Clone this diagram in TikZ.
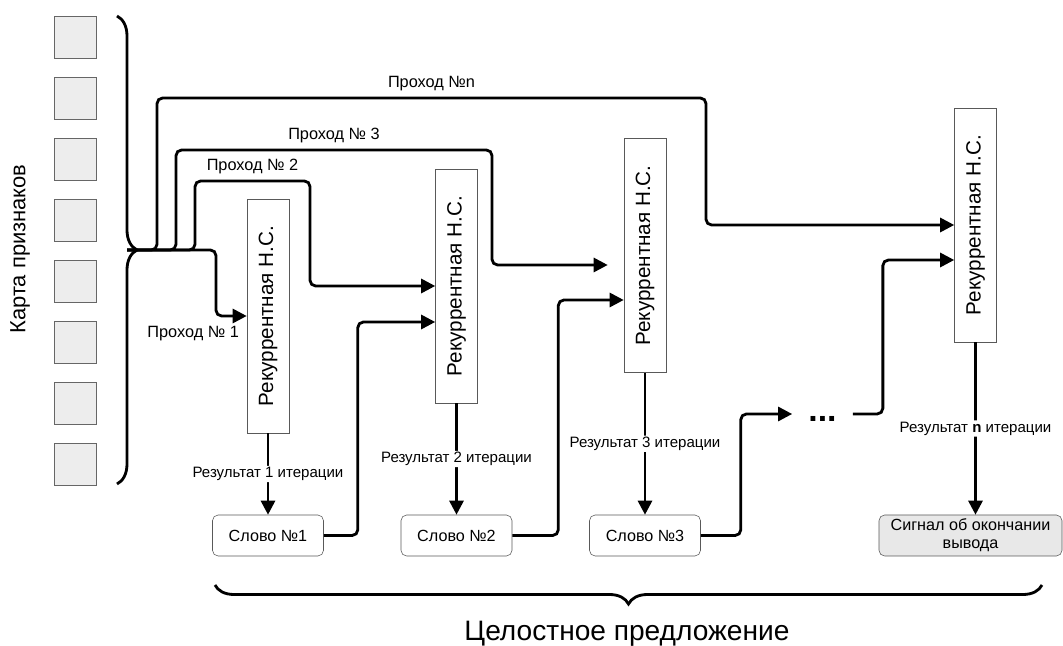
\documentclass[tikz,border=0pt]{standalone}
\usepackage{fontspec}
\setmainfont{Liberation Sans}
\usetikzlibrary{positioning, arrows.meta, decorations.pathreplacing}
\tikzset{
  cell/.style={
    draw=black!60,
    fill=black!7,
    minimum size=1.05cm,
    inner sep=0pt
  },
  rnnbox/.style={
    draw=black!65,
    fill=white,
    minimum width=1.05cm,
    minimum height=5.85cm,
    inner sep=0pt,
    font=\fontsize{14.7}{17}\selectfont
  },
  wordbox/.style={
    draw=black!65,
    fill=white,
    rounded corners=4pt,
    minimum width=2.775cm,
    minimum height=1.025cm,
    inner sep=0pt,
    align=center,
    font=\fontsize{11.5}{13}\selectfont
  },
  endbox/.style={
    wordbox,
    fill=black!9,
    minimum width=4.575cm
  },
  link/.style={
    line width=2pt,
    rounded corners=4pt,
    -{Triangle[length=10pt, width=10pt]}
  },
  passlbl/.style={
    font=\fontsize{11.6}{13}\selectfont,
    inner sep=2pt
  },
  reslbl/.style={
    font=\fontsize{10.7}{12}\selectfont,
    fill=white,
    inner sep=1pt
  },
  bracket/.style={
    decorate,
    decoration={brace, amplitude=#1},
    line width=2pt
  }
}

\begin{document}
\begin{tikzpicture}
        \useasboundingbox (0,0) rectangle (26.575,-16.15);

        % feature map
        \foreach \i in {0,...,7}
          \node[cell] (cell\i) at (1.875,-0.925-1.525*\i) {};
        \node[rotate=90, font=\fontsize{15.6}{18}\selectfont] (maplbl) at (0.5,-6.225) {Карта признаков};
        \draw[bracket=0.5cm] (2.925,-0.4) -- (2.925,-12.1);
        \coordinate (split) at (3.175,-6.25);

        % recurrent nets
        \node[rnnbox] (rnn1) at (6.7,-7.9) {\rotatebox{90}{Рекуррентная Н.С.}};
        \node[rnnbox] (rnn2) at (11.4125,-7.15) {\rotatebox{90}{Рекуррентная Н.С.}};
        \node[rnnbox] (rnn3) at (16.125,-6.3875) {\rotatebox{90}{Рекуррентная Н.С.}};
        \node[rnnbox] (rnn4) at (24.3875,-5.625) {\rotatebox{90}{Рекуррентная Н.С.}};

        % output words
        \node[wordbox] (word1) at (6.7,-13.3875) {Слово №1};
        \node[wordbox] (word2) at (11.4125,-13.3875) {Слово №2};
        \node[wordbox] (word3) at (16.125,-13.3875) {Слово №3};
        \node[endbox] (stop) at (24.2625,-13.3875) {Сигнал об окончании\\вывода};
        \node[font=\bfseries\fontsize{24}{28}\selectfont, inner xsep=0.4cm, inner ysep=0pt] (dots) at (20.5625,-10.35) {\raisebox{-5pt}[0pt][0pt]{...}};

        % passes over the feature map
        \draw[link] (split) -- ++(2.225,0) |- (rnn1.west);
        \node[passlbl, anchor=east] (pass1) at (6.05,-8.35) {Проход № 1};
        \draw[link] (split) -- ++(1.7,0) -- ++(0,1.725)
          -- node[passlbl, above=2pt] (pass2) {Проход № 2} ++(2.875,0) |- (rnn2.west);
        \draw[link] (split) -- ++(1.225,0) -- ++(0,2.5)
          -- node[passlbl, above=2pt] (pass3) {Проход № 3} ++(7.9,0) |- ([shift={(-0.4,-0.2375)}]rnn3.west);
        \draw[link] (split) -- ++(0.75,0) -- ++(0,3.8)
          -- node[passlbl, above=2pt] (passn) {Проход №n} ++(13.725,0) |- (rnn4.west);

        % iteration results
        \draw[link] (rnn1) -- node[reslbl] (res1) {Результат 1 итерации} (word1);
        \draw[link] (rnn2) -- node[reslbl] (res2) {Результат 2 итерации} (word2);
        \draw[link] (rnn3) -- node[reslbl] (res3) {Результат 3 итерации} (word3);
        \draw[link] (rnn4.south) -- node[reslbl] (resn) {Результат \textbf{n} итерации} (rnn4.south |- stop.north);

        % word fed back into the next pass
        \draw[link] (word1.east) -- ++(0.85,0) |- ([yshift=-0.9cm]rnn2.west);
        \draw[link] (word2.east) -- ++(1.15,0) |- ([yshift=-1.1125cm]rnn3.west);
        \draw[link] (word3.east) -- ++(1.0,0) |- (dots.west);
        \draw[link] (dots.east) -- ++(0.75,0) |- ([yshift=-0.875cm]rnn4.west);

        % whole sentence
        \draw[bracket=0.475cm] (26.05,-14.625) -- (5.375,-14.625);
        \node[font=\fontsize{20}{24}\selectfont] (sentence) at (15.675,-15.85) {Целостное предложение};
      \end{tikzpicture}
\end{document}
